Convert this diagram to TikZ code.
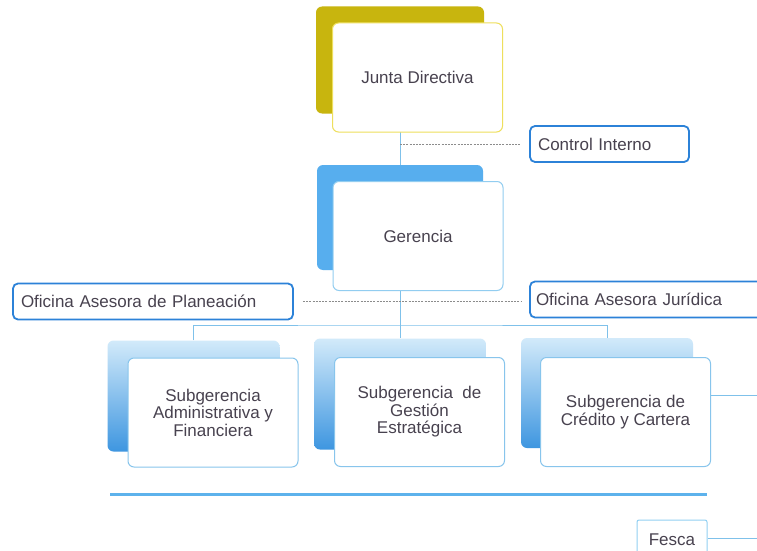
\documentclass[tikz,border=0pt]{standalone}
\usepackage{fontspec}
\setmainfont{Liberation Sans}
\usetikzlibrary{calc}

\definecolor{jdolive}{HTML}{C8B50E}
\definecolor{jdyellow}{HTML}{EEDF5C}
\definecolor{gerblue}{HTML}{57AEEE}
\definecolor{gerline}{HTML}{92CDF0}
\definecolor{subtop}{HTML}{D2EAFA}
\definecolor{subbot}{HTML}{3E96E0}
\definecolor{subline}{HTML}{88C5EC}
\definecolor{ofiblue}{HTML}{2C82D8}
\definecolor{connblue}{HTML}{7FC1EA}
\definecolor{dashgray}{HTML}{8C8C8C}
\definecolor{txtgray}{HTML}{48424F}
\definecolor{ruleblue}{HTML}{5DB2EC}
\definecolor{fescaline}{HTML}{92D0F2}

\begin{document}
\begin{tikzpicture}[x=1pt,y=-1pt,font=\fontsize{17}{17.5}\selectfont,text=txtgray,
  shadowbox/.style={minimum width=168pt,minimum height=107pt,rounded corners=6pt,inner sep=0pt},
  subshadow/.style={shadowbox,top color=subtop,bottom color=subbot,minimum width=172pt,minimum height=111pt},
  frontbox/.style={draw,fill=white,line width=1pt,rounded corners=6pt,minimum width=170pt,minimum height=109pt,align=center,inner sep=2pt},
  ofibox/.style={draw=ofiblue,line width=1.8pt,rounded corners=5pt,minimum height=36pt,align=left,inner xsep=8pt},
  conn/.style={draw=connblue,line width=1pt},
  dashconn/.style={draw=dashgray,line width=0.8pt,dash pattern=on 2pt off 1.2pt}]
        \fill[white] (0,0) rectangle (757,551);
        \useasboundingbox (0,0) rectangle (757,551);
        \clip (0,0) rectangle (757,551);
        % back plates
        \node[shadowbox,fill=jdolive] (junta) at (400,60) {};
        \node[shadowbox,fill=gerblue,minimum width=166pt,minimum height=105pt] (gerencia) at (400,217.5) {};
        \node[subshadow] (subadm) at (193.5,396) {};
        \node[subshadow] (subges) at (400,394) {};
        \node[subshadow,minimum height=110pt] (subcre) at (607,393) {};
        % lines of command
        \coordinate (branch) at (400,325);
        \draw[conn] (junta) -- (gerencia);
        \draw[conn] (gerencia) -- (subges);
        \draw[conn] (subadm.north) |- (branch) -| (subcre.north);
        % front plates
        \node[frontbox,draw=jdyellow] (juntabox) at (417.5,77.5) {Junta Directiva};
        \node[frontbox,draw=gerline] (gerenciabox) at (418,236) {Gerencia};
        \node[frontbox,draw=subline] (subadmbox) at (213,412.5) {Subgerencia\\Administrativa y\\Financiera};
        \node[frontbox,draw=subline] (subgesbox) at (419.5,412) {Subgerencia\ \ de\\Gestión\\Estratégica};
        \node[frontbox,draw=subline] (subcrebox) at (625.5,412) {Subgerencia de\\Crédito y Cartera};
        % staff offices
        \node[ofibox,text width=143pt] (control) at (609.5,144) {Control Interno};
        \node[ofibox,text width=264pt] (planea) at (153,301.5) {Oficina Asesora de Planeación};
        \node[ofibox,text width=228pt,inner xsep=6pt] (juridica) at (650,299.5) {Oficina Asesora Jurídica};
        \draw[dashconn,shorten >=8pt] (junta.south |- control.west) -- (control.west);
        \draw[dashconn,shorten <=9pt,shorten >=8pt] (planea.east) -- (planea.east -| juridica.west);
        % exits on the right
        \node[draw=fescaline,line width=1pt,rounded corners=2pt,minimum width=70pt,minimum height=40pt,inner sep=0pt] (fesca) at (672,540) {Fesca};
        \coordinate (credout) at (757,395);
        \coordinate (fescaout) at (757,538);
        \draw[conn] (credout -| subcrebox.east) -- (credout);
        \draw[conn] (fescaout -| fesca.east) -- (fescaout);
        % rule
        \draw[ruleblue,line width=3pt] (110,494) -- (707,494);
      \end{tikzpicture}
\end{document}
